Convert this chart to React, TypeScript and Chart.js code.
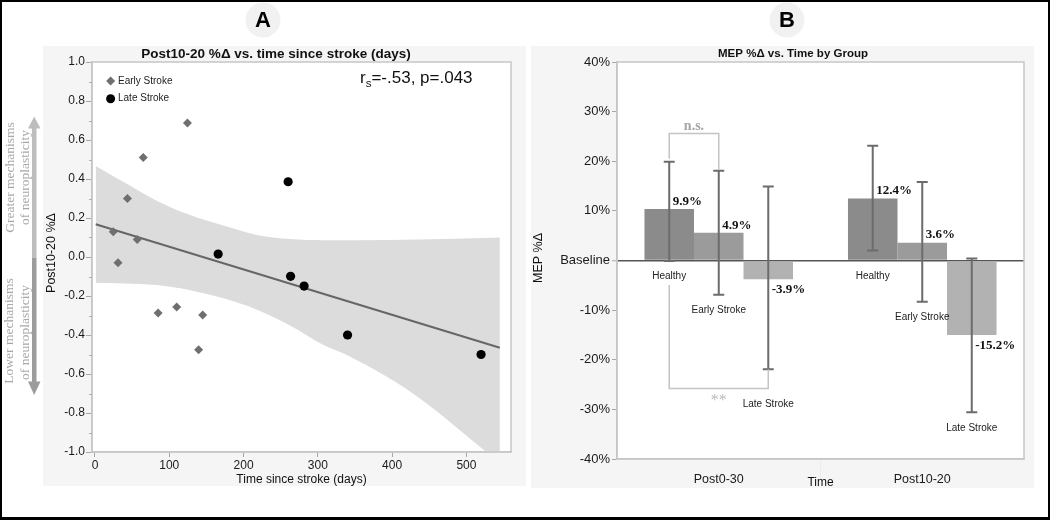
import React, { useEffect, useRef } from 'react';
import { Chart, registerables } from 'chart.js';

Chart.register(...registerables);

const SANS = "'Liberation Sans', Arial, sans-serif";
const SERIF = "'Liberation Serif', 'Times New Roman', serif";

// ---------- Panel A data ----------
const earlyDays = [24.6, 31, 43.7, 56.9, 65, 85, 110, 124.5, 139.5, 145];
const earlyChange = [0.13, -0.03, 0.3, 0.09, 0.51, -0.287, -0.256, 0.687, -0.475, -0.297];
const lateDays = [165.8, 260, 263.3, 281.5, 340, 519.7];
const lateChange = [0.015, 0.386, -0.099, -0.149, -0.4, -0.5];
const fitDays = [1, 545];
const fitChange = [0.168, -0.465];
const bandUpperDays = [1, 38, 83, 128, 173, 218, 262, 307, 397, 545];
const bandUpper = [0.467, 0.386, 0.289, 0.215, 0.161, 0.113, 0.092, 0.086, 0.087, 0.1];
const bandLowerDays = [1, 40, 83, 128, 173, 218, 262, 307, 339, 428, 518, 545];
const bandLower = [-0.132, -0.136, -0.144, -0.17, -0.212, -0.27, -0.35, -0.45, -0.503, -0.7, -0.973, -1.06];
const aXTicks = [0, 100, 200, 300, 400, 500];
const aYTicks = [-1, -0.8, -0.6, -0.4, -0.2, 0, 0.2, 0.4, 0.6, 0.8, 1];
const aYMinorTicks = [-0.9, -0.7, -0.5, -0.3, -0.1, 0.1, 0.3, 0.5, 0.7, 0.9];

// ---------- Panel B data ----------
const timeCats = ['Post0-30', 'Post10-20'];
const groupNames = ['Healthy', 'Early Stroke', 'Late Stroke'];
const healthyPct = [10.4, 12.5];
const earlyPct = [5.6, 3.6];
const latePct = [-3.8, -15.0];
const healthyText = ['9.9%', '12.4%'];
const earlyText = ['4.9%', '3.6%'];
const lateText = ['-3.9%', '-15.2%'];
const healthyLow = [-0.1, 2.0];
const healthyHigh = [19.9, 23.1];
const earlyLow = [-6.9, -8.3];
const earlyHigh = [18.1, 15.8];
const lateLow = [-21.9, -30.6];
const lateHigh = [14.9, 0.4];
const bYTicks = [-40, -30, -20, -10, 0, 10, 20, 30, 40];
const sigBrackets = [
  { cat: 0, from: 0, to: 1, level: 25.6, text: 'n.s.' },
  { cat: 0, from: 0, to: 2, level: -25.8, text: '**' },
];

const groupColors = ['#8b8b8b', '#9b9b9b', '#b2b2b2'];

function rotText(ctx: CanvasRenderingContext2D, text: string, x: number, y: number) {
  ctx.save();
  ctx.translate(x, y);
  ctx.rotate(-Math.PI / 2);
  ctx.textAlign = 'center';
  ctx.textBaseline = 'middle';
  ctx.fillText(text, 0, 0);
  ctx.restore();
}

function circleLetter(ctx: CanvasRenderingContext2D, letter: string, x: number, y: number) {
  ctx.save();
  ctx.fillStyle = '#f1f1f1';
  ctx.beginPath();
  ctx.arc(x, y, 17.5, 0, Math.PI * 2);
  ctx.fill();
  ctx.fillStyle = '#000';
  ctx.font = `bold 22px ${SANS}`;
  ctx.textAlign = 'center';
  ctx.textBaseline = 'middle';
  ctx.fillText(letter, x, y + 1);
  ctx.restore();
}

const panelAPlugin = {
  id: 'panelA',
  beforeDraw(chart: any) {
    const ctx = chart.ctx as CanvasRenderingContext2D;
    const { left, top, right, bottom } = chart.chartArea;
    ctx.save();
    ctx.fillStyle = '#ffffff';
    ctx.fillRect(0, 0, chart.width, chart.height);
    ctx.fillStyle = '#f5f5f5';
    ctx.fillRect(43, 46, 483, 440);
    ctx.fillStyle = '#ffffff';
    ctx.fillRect(left, top, right - left, bottom - top);
    ctx.restore();
  },
  afterDraw(chart: any) {
    const ctx = chart.ctx as CanvasRenderingContext2D;
    const { left, top, right, bottom } = chart.chartArea;
    const ys = chart.scales.y;
    ctx.save();
    // plot border
    ctx.strokeStyle = '#c6c6c6';
    ctx.lineWidth = 1.5;
    ctx.strokeRect(left, top, right - left, bottom - top);
    // minor ticks
    ctx.strokeStyle = '#b0b0b0';
    ctx.lineWidth = 1;
    for (const v of aYMinorTicks) {
      const p = Math.round(ys.getPixelForValue(v)) + 0.5;
      ctx.beginPath();
      ctx.moveTo(left - 3, p);
      ctx.lineTo(left, p);
      ctx.stroke();
    }
    // title
    ctx.fillStyle = '#111';
    ctx.font = `bold 13.5px ${SANS}`;
    ctx.textAlign = 'center';
    ctx.textBaseline = 'middle';
    ctx.fillText('Post10-20 %Δ vs. time since stroke (days)', 276, 54);
    // axis titles
    ctx.font = `12px ${SANS}`;
    ctx.fillText('Time since stroke (days)', (left + right) / 2, 480);
    ctx.font = `12.5px ${SANS}`;
    rotText(ctx, 'Post10-20 %Δ', 51.5, 253);
    // r_s text
    ctx.textAlign = 'left';
    ctx.textBaseline = 'alphabetic';
    ctx.font = `17px ${SANS}`;
    let x = 360;
    ctx.fillText('r', x, 83);
    x += ctx.measureText('r').width;
    ctx.font = `11.5px ${SANS}`;
    ctx.fillText('s', x, 87);
    x += ctx.measureText('s').width;
    ctx.font = `17px ${SANS}`;
    ctx.fillText('=-.53, p=.043', x, 83);
    // legend
    const ds = chart.data.datasets;
    const lx = 110.6;
    ctx.fillStyle = ds[3].backgroundColor;
    ctx.beginPath();
    ctx.moveTo(lx - 4.5, 81);
    ctx.lineTo(lx, 76.5);
    ctx.lineTo(lx + 4.5, 81);
    ctx.lineTo(lx, 85.5);
    ctx.closePath();
    ctx.fill();
    ctx.fillStyle = ds[4].backgroundColor;
    ctx.beginPath();
    ctx.arc(lx, 98.7, 4.5, 0, Math.PI * 2);
    ctx.fill();
    ctx.fillStyle = '#222';
    ctx.font = `10px ${SANS}`;
    ctx.textBaseline = 'middle';
    ctx.fillText(ds[3].label, 118, 81);
    ctx.fillText(ds[4].label, 118, 98.7);
    // side annotations
    ctx.fillStyle = '#a8a8a8';
    ctx.font = `13.5px ${SERIF}`;
    rotText(ctx, 'Greater mechanisms', 10, 177.5);
    rotText(ctx, 'of neuroplasticity', 25.5, 177.5);
    rotText(ctx, 'Lower mechanisms', 9.5, 331);
    rotText(ctx, 'of neuroplasticity', 25.5, 332.5);
    // arrow
    ctx.fillStyle = '#bdbdbd';
    ctx.fillRect(32, 126, 4.5, 132);
    ctx.beginPath();
    ctx.moveTo(34.2, 116.5);
    ctx.lineTo(40.5, 128.5);
    ctx.lineTo(28, 128.5);
    ctx.closePath();
    ctx.fill();
    ctx.fillStyle = '#9c9c9c';
    ctx.fillRect(32, 258, 4.5, 126);
    ctx.beginPath();
    ctx.moveTo(34.2, 395);
    ctx.lineTo(40.5, 381.5);
    ctx.lineTo(28, 381.5);
    ctx.closePath();
    ctx.fill();
    // circle letter
    circleLetter(ctx, 'A', 263, 20);
    // frame
    ctx.fillStyle = '#000';
    ctx.fillRect(0, 0, chart.width, 2);
    ctx.fillRect(0, 0, 2, chart.height);
    ctx.fillRect(0, 517, chart.width, 3);
    ctx.restore();
  },
};

const panelBPlugin = {
  id: 'panelB',
  beforeDraw(chart: any) {
    const ctx = chart.ctx as CanvasRenderingContext2D;
    const { left, top, right, bottom } = chart.chartArea;
    ctx.save();
    ctx.fillStyle = '#ffffff';
    ctx.fillRect(0, 0, chart.width, chart.height);
    ctx.fillStyle = '#f5f5f5';
    ctx.fillRect(3, 46, 503, 442);
    ctx.fillStyle = '#ffffff';
    ctx.fillRect(left, top, right - left, bottom - top);
    ctx.restore();
  },
  afterDatasetsDraw(chart: any) {
    const ctx = chart.ctx as CanvasRenderingContext2D;
    const ys = chart.scales.y;
    const px = (v: number) => ys.getPixelForValue(v);
    const metas = [0, 1, 2].map((i) => chart.getDatasetMeta(i));
    const lows = [healthyLow, earlyLow, lateLow];
    const highs = [healthyHigh, earlyHigh, lateHigh];
    const vals = [healthyPct, earlyPct, latePct];
    const texts = [healthyText, earlyText, lateText];
    const zeroPx = px(0);
    const whiskerBottom = (i: number, j: number) => Math.max(px(lows[i][j]), zeroPx);
    const labelBelowBracket = (i: number, j: number, b: any) =>
      b.level < 0 && b.cat === j && (b.from === i || b.to === i) && px(b.level) - whiskerBottom(i, j) < 40;
    const lowest = (i: number, j: number) => {
      let p = whiskerBottom(i, j);
      for (const b of sigBrackets) if (labelBelowBracket(i, j, b)) p = Math.max(p, px(b.level));
      return p;
    };
    ctx.save();
    // error bars
    ctx.strokeStyle = '#6c6c6c';
    ctx.lineWidth = 2;
    for (let i = 0; i < 3; i++) {
      for (let j = 0; j < timeCats.length; j++) {
        const x = metas[i].data[j].x;
        const yl = px(lows[i][j]);
        const yh = px(highs[i][j]);
        ctx.beginPath();
        ctx.moveTo(x, yl);
        ctx.lineTo(x, yh);
        ctx.moveTo(x - 5.5, yl);
        ctx.lineTo(x + 5.5, yl);
        ctx.moveTo(x - 5.5, yh);
        ctx.lineTo(x + 5.5, yh);
        ctx.stroke();
      }
    }
    // value labels
    ctx.fillStyle = '#111';
    ctx.font = `bold 13px ${SERIF}`;
    ctx.textAlign = 'left';
    ctx.textBaseline = 'middle';
    for (let i = 0; i < 3; i++) {
      for (let j = 0; j < timeCats.length; j++) {
        const x = metas[i].data[j].x + 3.5;
        const v = vals[i][j];
        const y = v >= 0 ? px(v) - 7.5 : px(v) + 10.5;
        ctx.fillText(texts[i][j], x, y);
      }
    }
    // group labels
    ctx.fillStyle = '#222';
    ctx.font = `10px ${SANS}`;
    ctx.textAlign = 'center';
    for (let i = 0; i < 3; i++) {
      for (let j = 0; j < timeCats.length; j++) {
        ctx.fillText(groupNames[i], metas[i].data[j].x, lowest(i, j) + 15.5);
      }
    }
    // significance brackets
    for (const b of sigBrackets) {
      const x1 = metas[b.from].data[b.cat].x;
      const x2 = metas[b.to].data[b.cat].x;
      const ly = px(b.level);
      let e1: number, e2: number;
      if (b.level > 0) {
        e1 = px(highs[b.from][b.cat]) - 3;
        e2 = px(highs[b.to][b.cat]) - 1;
      } else {
        const end = (i: number) =>
          labelBelowBracket(i, b.cat, b) ? px(lows[i][b.cat]) : whiskerBottom(i, b.cat) + 15.5 + 8.5;
        e1 = end(b.from);
        e2 = end(b.to);
      }
      ctx.strokeStyle = '#c4c4c4';
      ctx.lineWidth = 1.5;
      ctx.beginPath();
      ctx.moveTo(x1, e1);
      ctx.lineTo(x1, ly);
      ctx.lineTo(x2, ly);
      ctx.lineTo(x2, e2);
      ctx.stroke();
      ctx.textAlign = 'center';
      ctx.textBaseline = 'alphabetic';
      if (b.level > 0) {
        ctx.fillStyle = '#a6a6a6';
        ctx.font = `bold 14px ${SERIF}`;
        ctx.fillText(b.text, (x1 + x2) / 2, ly - 3.5);
      } else {
        ctx.fillStyle = '#bbbbbb';
        ctx.font = `16px ${SERIF}`;
        ctx.fillText(b.text, (x1 + x2) / 2, ly + 16);
      }
    }
    ctx.restore();
  },
  afterDraw(chart: any) {
    const ctx = chart.ctx as CanvasRenderingContext2D;
    const { left, top, right, bottom } = chart.chartArea;
    const xs = chart.scales.x;
    ctx.save();
    ctx.strokeStyle = '#c6c6c6';
    ctx.lineWidth = 1.5;
    ctx.strokeRect(left, top, right - left, bottom - top);
    // category separator
    const sep = (xs.getPixelForValue(0) + xs.getPixelForValue(1)) / 2;
    ctx.strokeStyle = '#ececec';
    ctx.lineWidth = 1;
    ctx.beginPath();
    ctx.moveTo(sep, bottom + 1);
    ctx.lineTo(sep, bottom + 19);
    ctx.stroke();
    // titles
    ctx.fillStyle = '#111';
    ctx.font = `bold 11.5px ${SANS}`;
    ctx.textAlign = 'center';
    ctx.textBaseline = 'middle';
    ctx.fillText('MEP %Δ vs. Time by Group', 265, 54);
    ctx.font = `12px ${SANS}`;
    ctx.fillText('Time', (left + right) / 2, 483);
    ctx.font = `12.5px ${SANS}`;
    rotText(ctx, 'MEP %Δ', 10.5, 258);
    circleLetter(ctx, 'B', 259, 20);
    // frame
    ctx.fillStyle = '#000';
    ctx.fillRect(0, 0, chart.width, 2);
    ctx.fillRect(0, 517, chart.width, 3);
    ctx.fillRect(chart.width - 2, 0, 2, chart.height);
    ctx.restore();
  },
};

function zeroPad(scale: any) {
  scale.paddingTop = 0;
  scale.paddingBottom = 0;
  scale.paddingLeft = 0;
  scale.paddingRight = 0;
}

export default function App() {
  const refA = useRef<HTMLCanvasElement>(null);
  const refB = useRef<HTMLCanvasElement>(null);

  useEffect(() => {
    const xy = (xs: number[], ys: number[]) => xs.map((x, i) => ({ x, y: ys[i] }));

    const chartA = new Chart(refA.current as HTMLCanvasElement, {
      type: 'scatter',
      data: {
        datasets: [
          {
            label: 'Upper band',
            data: xy(bandUpperDays, bandUpper),
            showLine: true,
            fill: '+1',
            backgroundColor: '#dcdcdc',
            borderWidth: 0,
            pointRadius: 0,
            cubicInterpolationMode: 'monotone',
            order: 5,
            clip: 0,
          } as any,
          {
            label: 'Lower band',
            data: xy(bandLowerDays, bandLower),
            showLine: true,
            fill: false,
            borderWidth: 0,
            borderColor: 'rgba(0,0,0,0)',
            pointRadius: 0,
            cubicInterpolationMode: 'monotone',
            order: 4,
            clip: 0,
          } as any,
          {
            label: 'Fit',
            data: xy(fitDays, fitChange),
            showLine: true,
            borderColor: '#666666',
            borderWidth: 2,
            pointRadius: 0,
            order: 3,
          } as any,
          {
            label: 'Early Stroke',
            data: xy(earlyDays, earlyChange),
            pointStyle: 'rectRot',
            pointRadius: 4.5,
            backgroundColor: '#6f6f6f',
            borderColor: '#6f6f6f',
            borderWidth: 0,
            order: 1,
          } as any,
          {
            label: 'Late Stroke',
            data: xy(lateDays, lateChange),
            pointStyle: 'circle',
            pointRadius: 4.6,
            backgroundColor: '#000000',
            borderColor: '#000000',
            borderWidth: 0,
            order: 0,
          } as any,
        ],
      },
      options: {
        responsive: false,
        animation: false,
        devicePixelRatio: 1,
        layout: { padding: { top: 62, right: 17, bottom: 0, left: 0 } },
        plugins: { legend: { display: false }, tooltip: { enabled: false } },
        scales: {
          x: {
            type: 'linear',
            min: -4,
            max: 560,
            afterBuildTicks: (s: any) => {
              s.ticks = aXTicks.map((v) => ({ value: v }));
            },
            afterFit: (s: any) => {
              s.height = 68;
              zeroPad(s);
            },
            ticks: { font: { family: SANS, size: 12 }, color: '#1a1a1a', padding: 1, maxRotation: 0 },
            grid: { drawOnChartArea: false, drawTicks: true, tickLength: 5, tickColor: '#a8a8a8' },
            border: { color: '#c6c6c6', width: 1.5 },
          },
          y: {
            type: 'linear',
            min: -1,
            max: 1,
            afterBuildTicks: (s: any) => {
              s.ticks = aYTicks.map((v) => ({ value: v }));
            },
            afterFit: (s: any) => {
              s.width = 92;
              zeroPad(s);
            },
            ticks: {
              font: { family: SANS, size: 12 },
              color: '#1a1a1a',
              padding: 1,
              callback: (v: any) => Number(v).toFixed(1),
            },
            grid: { drawOnChartArea: false, drawTicks: true, tickLength: 6, tickColor: '#a8a8a8' },
            border: { color: '#c6c6c6', width: 1.5 },
          },
        },
      } as any,
      plugins: [panelAPlugin],
    });

    const barVals = [healthyPct, earlyPct, latePct];
    const chartB = new Chart(refB.current as HTMLCanvasElement, {
      type: 'bar',
      data: {
        labels: timeCats,
        datasets: groupNames.map((g, i) => ({
          label: g,
          data: barVals[i],
          backgroundColor: groupColors[i],
          borderWidth: 0,
          categoryPercentage: 0.73,
          barPercentage: 1,
        })),
      },
      options: {
        responsive: false,
        animation: false,
        devicePixelRatio: 1,
        layout: { padding: { top: 62, right: 26, bottom: 0, left: 0 } },
        plugins: { legend: { display: false }, tooltip: { enabled: false } },
        scales: {
          x: {
            afterFit: (s: any) => {
              s.height = 61;
              zeroPad(s);
            },
            ticks: { font: { family: SANS, size: 12.5 }, color: '#1a1a1a', padding: 5, maxRotation: 0 },
            grid: { display: false },
            border: { color: '#c6c6c6', width: 1.5 },
          },
          y: {
            min: -40,
            max: 40,
            afterBuildTicks: (s: any) => {
              s.ticks = bYTicks.map((v) => ({ value: v }));
            },
            afterFit: (s: any) => {
              s.width = 89;
              zeroPad(s);
            },
            ticks: {
              font: { family: SANS, size: 13 },
              color: '#1a1a1a',
              padding: 2,
              callback: (v: any) => (Number(v) === 0 ? 'Baseline' : `${v}%`),
            },
            grid: {
              drawOnChartArea: true,
              drawTicks: true,
              tickLength: 5,
              tickColor: '#a8a8a8',
              tickWidth: 1,
              color: (c: any) => (c.tick && c.tick.value === 0 ? '#555555' : 'rgba(0,0,0,0)'),
              lineWidth: (c: any) => (c.tick && c.tick.value === 0 ? 1.5 : 1),
            },
            border: { color: '#c6c6c6', width: 1.5 },
          },
        },
      } as any,
      plugins: [panelBPlugin],
    });

    return () => {
      chartA.destroy();
      chartB.destroy();
    };
  }, []);

  return (
    <div
      style={{
        position: 'absolute',
        left: 0,
        top: 0,
        width: 1050,
        height: 520,
        background: '#ffffff',
        overflow: 'hidden',
      }}
    >
      <canvas
        ref={refA}
        width={528}
        height={520}
        style={{ position: 'absolute', left: 0, top: 0, width: 528, height: 520 }}
      />
      <canvas
        ref={refB}
        width={522}
        height={520}
        style={{ position: 'absolute', left: 528, top: 0, width: 522, height: 520 }}
      />
    </div>
  );
}
